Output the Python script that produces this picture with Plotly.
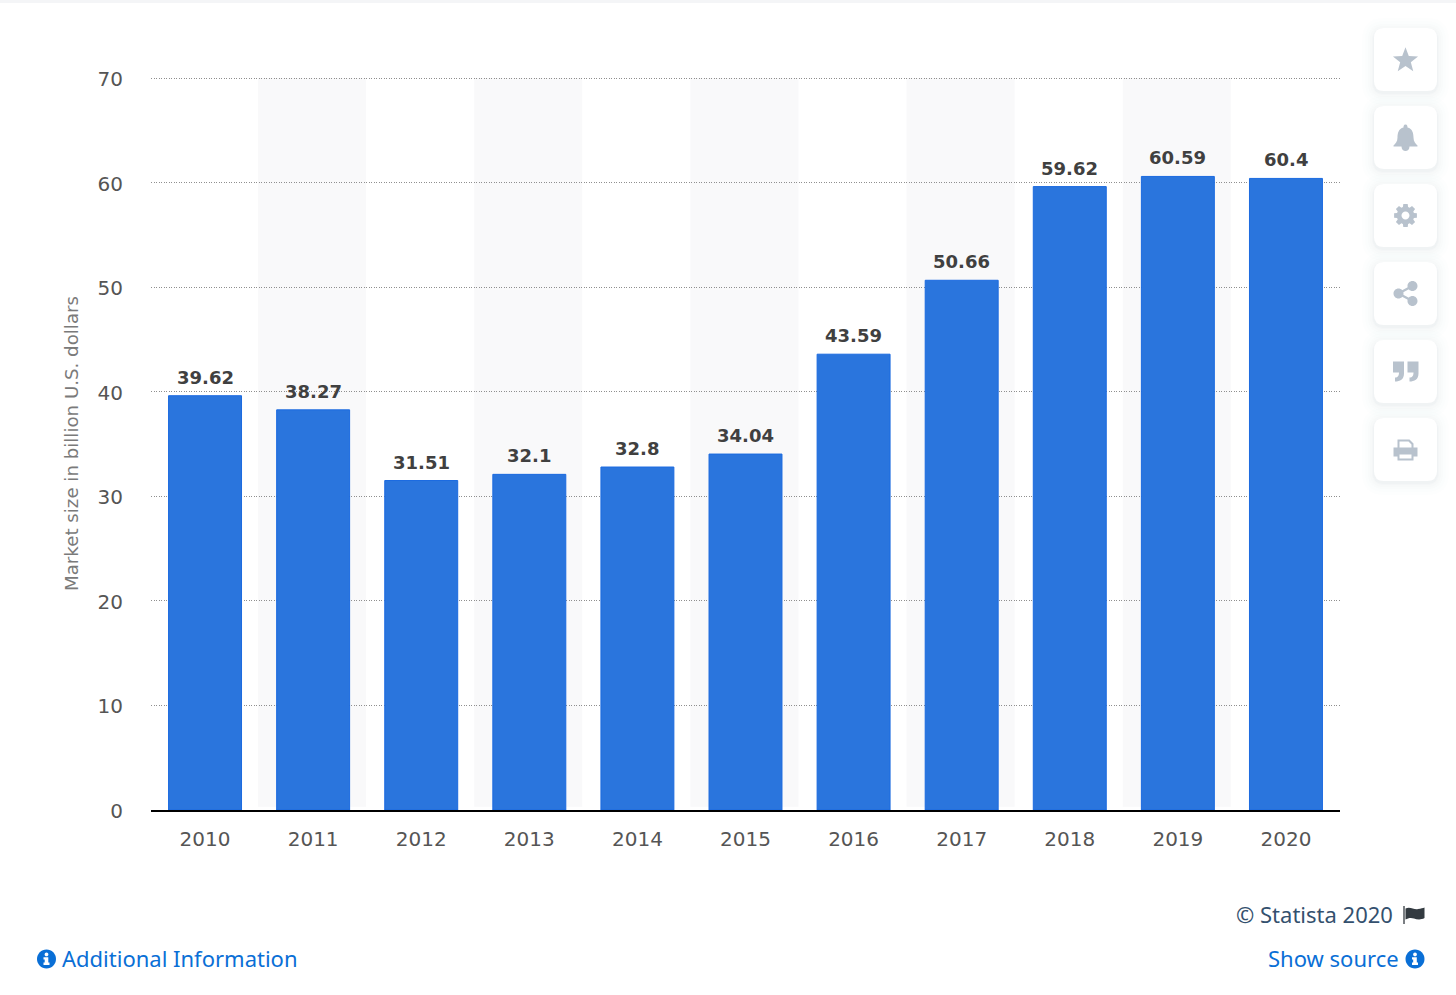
import math
import re
import plotly.graph_objects as go

# ---------- data ----------
years = ["2010", "2011", "2012", "2013", "2014", "2015", "2016", "2017", "2018", "2019", "2020"]
market_size = [39.62, 38.27, 31.51, 32.1, 32.8, 34.04, 43.59, 50.66, 59.62, 60.59, 60.4]
y_ticks = [0, 10, 20, 30, 40, 50, 60, 70]
y_title = "Market size in billion U.S. dollars"

# ---------- page geometry ----------
W, H = 1456, 995
ML, MR, MT, MB = 151, 116, 77, 185
PW, PH = W - ML - MR, H - MT - MB
FONT = "DejaVu Sans"
UI_FONT = "Noto Sans"
LINK = "#0a6fd6"
ICON = "#b8c2cd"


def px(x):
    return (x - ML) / PW


def py(y):
    return 1 - (y - MT) / PH


def to_paper(path):
    """Convert an absolute M/L/C/Q/Z path from page pixels to paper coordinates."""
    tokens = re.findall(r"[MLCQZ]|-?\d+\.?\d*", path)
    out, is_x = [], True
    for t in tokens:
        if t in "MLCQZ":
            out.append(t)
            is_x = True
        else:
            v = float(t)
            out.append(f"{px(v):.5f}" if is_x else f"{py(v):.5f}")
            is_x = not is_x
    return " ".join(out)


def circle_path(cx, cy, r):
    k = 0.5523 * r
    return (
        f"M {cx + r} {cy} C {cx + r} {cy + k} {cx + k} {cy + r} {cx} {cy + r} "
        f"C {cx - k} {cy + r} {cx - r} {cy + k} {cx - r} {cy} "
        f"C {cx - r} {cy - k} {cx - k} {cy - r} {cx} {cy - r} "
        f"C {cx + k} {cy - r} {cx + r} {cy - k} {cx + r} {cy} Z "
    )


def round_rect(x0, y0, x1, y1, r):
    return (
        f"M {x0 + r} {y0} L {x1 - r} {y0} Q {x1} {y0} {x1} {y0 + r} "
        f"L {x1} {y1 - r} Q {x1} {y1} {x1 - r} {y1} L {x0 + r} {y1} "
        f"Q {x0} {y1} {x0} {y1 - r} L {x0} {y0 + r} Q {x0} {y0} {x0 + r} {y0} Z"
    )


def deco(path, fill, rule="evenodd", line=None, lw=0):
    return dict(
        type="path", xref="paper", yref="paper", path=to_paper(path), fillcolor=fill,
        fillrule=rule, line=dict(color=line or "rgba(0,0,0,0)", width=lw), layer="above",
    )


shapes = []

# alternating column bands
for i in range(1, len(years), 2):
    shapes.append(dict(type="rect", xref="x", yref="y", x0=i - 0.51, x1=i + 0.49, y0=0.3, y1=70,
                       fillcolor="#f9f9fa", line=dict(width=0), layer="below"))

# thin strip at the top of the page
shapes.append(deco(f"M 0 0 L {W} 0 L {W} 3 L 0 3 Z", "#f4f5f7"))

# side buttons
BTN_X0, BTN_X1 = 1374, 1437
btn_tops = [28, 106, 184, 262, 340, 418]
for top in btn_tops:
    for grow, alpha in [(12, 0.006), (9, 0.008), (6, 0.010), (4, 0.012), (2, 0.016), (1, 0.02)]:
        shapes.append(deco(round_rect(BTN_X0 - grow, top - grow + 2, BTN_X1 + grow, top + 63 + grow + 2, 10 + grow),
                           f"rgba(60,80,110,{alpha})"))
    shapes.append(deco(round_rect(BTN_X0, top, BTN_X1, top + 63, 10), "#ffffff"))

CX = 1405.5
# star
cy = 59.5
pts = []
for k in range(10):
    r = 13.2 if k % 2 == 0 else 5.6
    a = -math.pi / 2 + k * math.pi / 5
    pts.append((CX + r * math.cos(a), cy + 1 + r * math.sin(a)))
shapes.append(deco("M " + " L ".join(f"{a:.2f} {b:.2f}" for a, b in pts) + " Z", ICON))
# bell
cy = 137.5
shapes.append(deco(
    f"M {CX} {cy - 13} C {CX + 2} {cy - 13} {CX + 2} {cy - 11} {CX + 2} {cy - 10} "
    f"C {CX + 7} {cy - 9} {CX + 8} {cy - 4} {CX + 8} {cy} C {CX + 8} {cy + 4} {CX + 10} {cy + 6} {CX + 12} {cy + 8} "
    f"L {CX + 12} {cy + 9} L {CX + 4} {cy + 9} C {CX + 4} {cy + 15} {CX - 4} {cy + 15} {CX - 4} {cy + 9} "
    f"L {CX - 12} {cy + 9} L {CX - 12} {cy + 8} C {CX - 10} {cy + 6} {CX - 8} {cy + 4} {CX - 8} {cy} "
    f"C {CX - 8} {cy - 4} {CX - 7} {cy - 9} {CX - 2} {cy - 10} C {CX - 2} {cy - 11} {CX - 2} {cy - 13} {CX} {cy - 13} Z",
    ICON))
# gear
cy = 215.5
pts = []
for k in range(8):
    a = k * math.pi / 4 - math.pi / 2
    for da, r in [(-0.30, 8.8), (-0.19, 11.6), (0.19, 11.6), (0.30, 8.8)]:
        pts.append((CX + r * math.cos(a + da), cy + r * math.sin(a + da)))
shapes.append(deco("M " + " L ".join(f"{a:.2f} {b:.2f}" for a, b in pts) + " Z " + circle_path(CX, cy, 4), ICON))
# share
cy = 293.5
shapes.append(deco(circle_path(CX - 7, cy, 5) + circle_path(CX + 7, cy - 7.5, 5) + circle_path(CX + 7, cy + 7.5, 5),
                   ICON, rule="nonzero"))
shapes.append(deco(f"M {CX - 7} {cy} L {CX + 7} {cy - 7.5} M {CX - 7} {cy} L {CX + 7} {cy + 7.5}",
                   "rgba(0,0,0,0)", line=ICON, lw=2.5))
# quotes
cy = 371.5
for dx in (-12.5, 2):
    shapes.append(deco(
        f"M {CX + dx} {cy - 10} L {CX + dx + 11} {cy - 10} L {CX + dx + 11} {cy + 2} "
        f"C {CX + dx + 11} {cy + 8} {CX + dx + 7} {cy + 10} {CX + dx + 2} {cy + 10} L {CX + dx + 2} {cy + 6} "
        f"C {CX + dx + 5} {cy + 6} {CX + dx + 6} {cy + 4} {CX + dx + 6} {cy + 1} L {CX + dx} {cy + 1} Z",
        ICON))
# printer
cy = 449.5
shapes.append(deco(
    f"M {CX - 8} {cy - 10} L {CX + 4} {cy - 10} L {CX + 8} {cy - 6} L {CX + 8} {cy - 2} L {CX + 12} {cy - 2} "
    f"L {CX + 12} {cy + 7} L {CX + 8} {cy + 7} L {CX + 8} {cy + 11} L {CX - 8} {cy + 11} L {CX - 8} {cy + 7} "
    f"L {CX - 12} {cy + 7} L {CX - 12} {cy - 2} L {CX - 8} {cy - 2} Z "
    f"M {CX - 6} {cy - 8} L {CX - 6} {cy - 2} L {CX + 6} {cy - 2} L {CX + 6} {cy - 5} L {CX + 3} {cy - 8} Z "
    f"M {CX - 6} {cy + 5} L {CX - 6} {cy + 9} L {CX + 6} {cy + 9} L {CX + 6} {cy + 5} Z",
    ICON))

# info icons
for cx in (46.5, 1415):
    cy = 959
    shapes.append(deco(circle_path(cx, cy, 9.5), LINK))
    shapes.append(deco(circle_path(cx, cy - 4.6, 1.9), "#ffffff"))
    shapes.append(deco(
        f"M {cx - 3} {cy - 1.8} L {cx + 1.8} {cy - 1.8} L {cx + 1.8} {cy + 3.6} L {cx + 3} {cy + 3.6} L {cx + 3} {cy + 6} "
        f"L {cx - 3} {cy + 6} L {cx - 3} {cy + 3.6} L {cx - 1.8} {cy + 3.6} L {cx - 1.8} {cy + 0.6} L {cx - 3} {cy + 0.6} Z",
        "#ffffff"))

# flag
shapes.append(deco("M 1404 906 L 1404 924", "rgba(0,0,0,0)", line="#333a40", lw=1.3))
shapes.append(deco(
    "M 1405.5 908.5 C 1410 906 1414 910 1418 909 C 1421 908.6 1423 908 1424.5 907.5 L 1424.5 918 "
    "C 1421 920 1417 919.5 1414 918.5 C 1411 917.5 1408 918 1405.5 919.5 Z", "#333a40"))

# ---------- figure ----------
fig = go.Figure(go.Bar(
    x=years, y=market_size, width=0.675,
    marker=dict(color="#2a75dd", line=dict(color="#1b6ae0", width=1)),
    hoverinfo="x+y",
))

# value labels; category axes take annotation positions as serial numbers
annotations = [
    dict(x=i, y=v, xref="x", yref="y", text=str(v), showarrow=False, yanchor="bottom",
         yshift=6, font=dict(family=FONT, size=18, color="#404040", weight="bold"))
    for i, v in enumerate(market_size)
]
annotations += [
    dict(x=px(1394.5), y=py(914), xref="paper", yref="paper", text="© Statista 2020", showarrow=False,
         xanchor="right", yanchor="middle", font=dict(family=UI_FONT, size=22, color="#34506e")),
    dict(x=px(1400.5), y=py(958), xref="paper", yref="paper", text="Show source", showarrow=False,
         xanchor="right", yanchor="middle", font=dict(family=UI_FONT, size=22, color=LINK)),
    dict(x=px(60), y=py(958), xref="paper", yref="paper", text="Additional Information", showarrow=False,
         xanchor="left", yanchor="middle", font=dict(family=UI_FONT, size=22, color=LINK)),
]

fig.update_layout(
    width=W, height=H,
    margin=dict(l=ML, r=MR, t=MT, b=MB, pad=0),
    paper_bgcolor="#ffffff", plot_bgcolor="#ffffff",
    showlegend=False,
    font=dict(family=FONT, color="#4a4a4a"),
    shapes=shapes, annotations=annotations,
    xaxis=dict(
        type="category", range=[-0.5, 10.5], showgrid=False, zeroline=False,
        showline=True, linecolor="#000000", linewidth=2,
        ticks="outside", ticklen=10, tickcolor="rgba(0,0,0,0)",
        tickfont=dict(family=FONT, size=20, color="#555555"), automargin=False,
    ),
    yaxis=dict(
        range=[0, 70.1], tickvals=y_ticks, ticktext=[str(t) for t in y_ticks],
        showgrid=True, gridcolor="#8f8f8f", gridwidth=1, griddash="1px,1.5px", zeroline=False, showline=False,
        ticks="outside", ticklen=23, tickcolor="rgba(0,0,0,0)", ticklabelshift=1,
        tickfont=dict(family=FONT, size=20, color="#555555"), automargin=False,
        title=dict(text=y_title, font=dict(family=FONT, size=18.2, color="#7a7a7a"), standoff=14),
    ),
)

fig.write_html("out.html", config={"displayModeBar": False},
               post_script="document.body.style.margin='0';")
